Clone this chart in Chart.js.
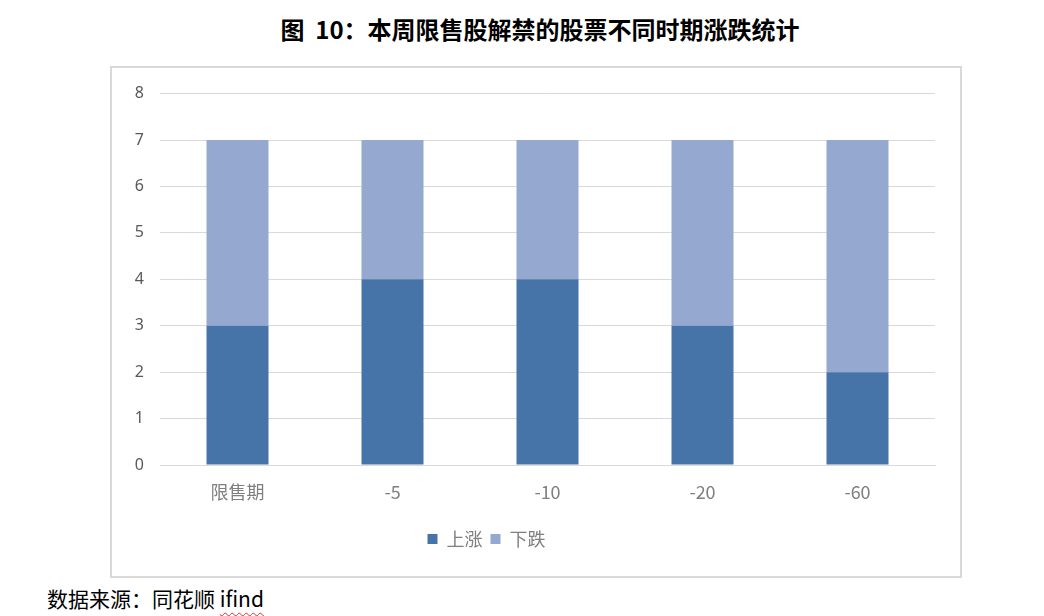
<!DOCTYPE html>
<html><head><meta charset="utf-8">
<script src="https://cdn.jsdelivr.net/npm/chart.js@4/dist/chart.umd.min.js"></script>
<style>
body{margin:0;width:1044px;height:616px;background:#fff;position:relative;overflow:hidden;font-family:"Noto Sans CJK SC","Noto Sans",sans-serif;}
#title{position:absolute;left:0;width:1080px;top:13px;text-align:center;font-size:24px;line-height:32px;font-weight:bold;color:#000;white-space:pre;}
#box{position:absolute;left:110px;top:66px;width:848px;height:508px;border:2px solid #d9d9d9;}
#src{position:absolute;left:47px;top:584px;font-size:21px;line-height:28px;color:#000;}
#src span{text-decoration:underline wavy #e03030;text-decoration-thickness:1px;text-underline-offset:5px;}
</style></head><body>
<div id="title">图  10：本周限售股解禁的股票不同时期涨跌统计</div>
<div id="box"><canvas id="c" width="848" height="508"></canvas></div>
<div id="src">数据来源：同花顺 <span>ifind</span></div>
<script>
const categories = ["限售期", "-5", "-10", "-20", "-60"];
const upValues = [3, 4, 4, 3, 2];
const downValues = [4, 3, 3, 4, 5];
const seriesNames = ["上涨", "下跌"];
const yTicks = [0, 1, 2, 3, 4, 5, 6, 7, 8];

const legendShift = {
  id: 'legendShift',
  afterLayout(chart) {
    const lg = chart.legend;
    if (lg) { lg.left -= 41; lg.right -= 41; }
  }
};

new Chart(document.getElementById('c'), {
  type: 'bar',
  data: {
    labels: categories,
    datasets: [
      {label: seriesNames[0], data: upValues, backgroundColor: '#4673a8', barPercentage: 0.4, categoryPercentage: 1},
      {label: seriesNames[1], data: downValues, backgroundColor: '#95a9d0', barPercentage: 0.4, categoryPercentage: 1}
    ]
  },
  plugins: [legendShift],
  options: {
    responsive: false,
    animation: false,
    layout: {padding: {left: 8, right: 25, top: 24, bottom: 18}},
    plugins: {
      legend: {
        position: 'bottom',
        labels: {boxWidth: 10, boxHeight: 10, color: '#7f7f7f', padding: 8, font: {size: 18, family: '"Noto Sans CJK SC"'}}
      },
      tooltip: {enabled: false}
    },
    scales: {
      x: {
        stacked: true,
        grid: {display: false},
        border: {color: '#d9d9d9', width: 1},
        ticks: {color: '#7f7f7f', padding: 8, font: {size: 18, family: '"Noto Sans CJK SC"'}},
        afterFit: s => { s.height = 57; }
      },
      y: {
        stacked: true,
        min: 0, max: 8,
        afterBuildTicks: s => { s.ticks = yTicks.map(v => ({value: v})); },
        grid: {color: '#d9d9d9', lineWidth: 1, drawTicks: false},
        border: {display: false},
        ticks: {color: '#595959', padding: 16, font: {size: 16, family: '"Noto Sans"'}},
        afterFit: s => { s.width = 40; }
      }
    }
  }
});
</script>
</body></html>
